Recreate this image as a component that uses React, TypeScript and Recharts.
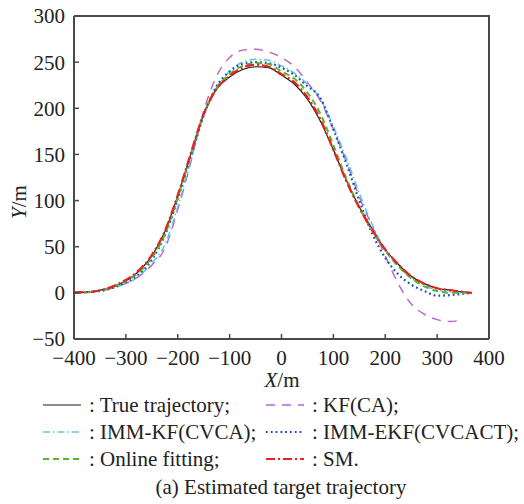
import { LineChart, Line, XAxis, YAxis } from "recharts";

// shared X grid (m)
const xGrid = [
  -400, -370, -340, -310, -280, -250, -225, -200, -175, -150, -125, -100, -75,
  -50, -25, 0, 25, 50, 75, 100, 125, 150, 175, 200, 225, 250, 275, 300, 325,
  350, 367,
];

const trueTrack = [
  0, 1, 4, 10, 21, 40, 66, 105, 150, 193, 221, 234, 242, 245, 244, 236, 226,
  210, 186, 155, 122, 93, 69, 47, 31, 18, 10, 5, 3, 1, 0,
];
const kfCa = [
  0, 1, 3, 8, 16, 30, 48, 90, 141, 197, 235, 255, 263, 264, 261, 255, 245,
  228, 208, 177, 142, 104, 72, 40, 10, -12, -23, -29, -31, -29, null,
];
const immKf = [
  0, 1, 3, 8, 16, 32, 52, 93, 143, 192, 223, 240, 250, 253, 252, 246, 238,
  226, 210, 180, 146, 108, 74, 46, 29, 16, 8, 3, 1, 0, 0,
];
const immEkf = [
  0, 1, 3, 9, 18, 36, 62, 102, 148, 192, 224, 240, 248, 250, 249, 244, 236,
  224, 211, 177, 140, 100, 64, 38, 20, 9, 2, -3, -2.5, -1, 0,
];
const onlineFit = [
  0, 1, 4, 10, 20, 38, 63, 103, 150, 194, 222, 237, 246, 249, 248, 240, 232,
  217, 194, 160, 124, 93, 67, 46, 29, 16, 7, 2, 0, 0, 0,
];
const smTrack = [
  0.5, 1, 4, 11, 22, 41, 67, 106, 151, 194, 221, 235, 244, 247, 245, 237, 228,
  212, 188, 155, 121, 92, 68, 47, 31, 18, 10, 5, 3, 1, 0,
];

const xTicks = [-400, -300, -200, -100, 0, 100, 200, 300, 400];
const yTicks = [-50, 0, 50, 100, 150, 200, 250, 300];

const toPoints = (ys: (number | null)[]) => xGrid.map((x, i) => ({ x, y: ys[i] }));

const SERIES = [
  { name: "True trajectory;", data: toPoints(trueTrack), color: "#1a1a1a", width: 1.2, dash: undefined },
  { name: "KF(CA);", data: toPoints(kfCa), color: "#b466c8", width: 1.4, dash: "9 7" },
  { name: "IMM-KF(CVCA);", data: toPoints(immKf), color: "#5cc6da", width: 1.5, dash: "7 3 1.5 3" },
  { name: "IMM-EKF(CVCACT);", data: toPoints(immEkf), color: "#1f50b4", width: 2.2, dash: "1.8 3" },
  { name: "Online fitting;", data: toPoints(onlineFit), color: "#5ab52a", width: 2, dash: "6 4" },
  { name: "SM.", data: toPoints(smTrack), color: "#e8211f", width: 2.2, dash: "9 3 2 3" },
];

const SERIF = "Liberation Serif";
const FRAME = "#4a4a4a";

const fmt = (v: number) => String(v).replace("-", "\u2212");

const textStyle = {
  fontFamily: SERIF,
  fontSize: 21,
  color: "#222",
  position: "absolute" as const,
  lineHeight: "24px",
  whiteSpace: "nowrap" as const,
};

function LegendItem({ s, left, top }: { s: (typeof SERIES)[0]; left: number; top: number }) {
  return (
    <div style={{ ...textStyle, left, top, height: 27, display: "flex", alignItems: "center" }}>
      <svg width={38} height={27} style={{ display: "block" }}>
        <line x1={0} x2={38} y1={14} y2={14} stroke={s.color} strokeWidth={s.width} strokeDasharray={s.dash} />
      </svg>
      <span style={{ marginLeft: 8 }}>: {s.name}</span>
    </div>
  );
}

export default function App() {
  return (
    <div style={{ position: "absolute", left: 0, top: 0, width: 524, height: 504, background: "#fff" }}>
      <div style={{ position: "absolute", left: 0, top: 0 }}>
        <LineChart width={524} height={372} margin={{ top: 16, right: 35, bottom: 2, left: 0 }}>
          <XAxis
            dataKey="x"
            type="number"
            domain={[-400, 400]}
            ticks={xTicks}
            tickFormatter={fmt}
            tickSize={-5}
            tickMargin={16}
            height={31}
            axisLine={{ stroke: FRAME, strokeWidth: 2 }}
            tickLine={{ stroke: FRAME, strokeWidth: 1.5 }}
            tick={{ fill: "#222", fontSize: 21, fontFamily: SERIF }}
          />
          <YAxis
            type="number"
            domain={[-50, 300]}
            ticks={yTicks}
            tickFormatter={fmt}
            tickSize={-5}
            tickMargin={14}
            width={74}
            axisLine={{ stroke: FRAME, strokeWidth: 2 }}
            tickLine={{ stroke: FRAME, strokeWidth: 1.5 }}
            tick={{ fill: "#222", fontSize: 21, fontFamily: SERIF }}
          />
          {SERIES.map((s) => (
            <Line
              key={s.name}
              data={s.data}
              dataKey="y"
              type="monotone"
              stroke={s.color}
              strokeWidth={s.width}
              strokeDasharray={s.dash}
              dot={false}
              activeDot={false}
              isAnimationActive={false}
            />
          ))}
        </LineChart>
      </div>
      {/* top and right edges of the plot frame */}
      <svg width={524} height={372} style={{ position: "absolute", left: 0, top: 0, pointerEvents: "none" }}>
        <polyline points="74,16 489,16 489,339" fill="none" stroke={FRAME} strokeWidth={2} />
      </svg>

      <div style={{ ...textStyle, left: 282, top: 368, transform: "translateX(-50%)" }}>
        <i>X</i>/m
      </div>
      <div style={{ ...textStyle, left: 19, top: 202, transform: "translate(-50%, -50%) rotate(-90deg)" }}>
        <i>Y</i>/m
      </div>

      <LegendItem s={SERIES[0]} left={43} top={391} />
      <LegendItem s={SERIES[1]} left={266} top={391} />
      <LegendItem s={SERIES[2]} left={43} top={418} />
      <LegendItem s={SERIES[3]} left={266} top={418} />
      <LegendItem s={SERIES[4]} left={43} top={445} />
      <LegendItem s={SERIES[5]} left={266} top={445} />

      <div style={{ ...textStyle, left: 281, top: 475, transform: "translateX(-50%)" }}>
        (a) Estimated target trajectory
      </div>
    </div>
  );
}
